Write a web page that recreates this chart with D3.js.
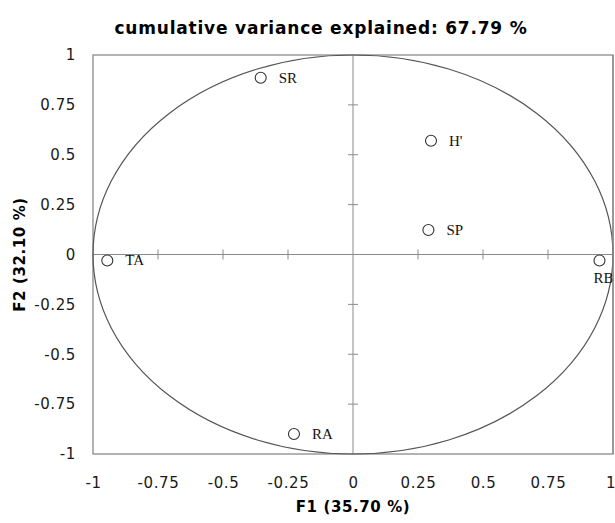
<!DOCTYPE html>
<html><head><meta charset="utf-8">
<script src="https://cdn.jsdelivr.net/npm/d3@7"></script>
<style>body{margin:0;background:#fff}</style>
</head><body>
<svg id="c" width="615" height="523"></svg>
<script>
const labels = ["SR","H'","SP","TA","RB","RA"];
const f1 = [-0.355, 0.30, 0.29, -0.945, 0.948, -0.227];
const f2 = [0.886, 0.57, 0.123, -0.03, -0.03, -0.90];
const tickVals = [-1,-0.75,-0.5,-0.25,0,0.25,0.5,0.75,1];
const tickText = ["-1","-0.75","-0.5","-0.25","0","0.25","0.5","0.75","1"];
const title = "cumulative variance explained: 67.79 %";
const xTitle = "F1 (35.70 %)";
const yTitle = "F2 (32.10 %)";

const svg = d3.select("#c");
const L=93, R=613, T=55, B=454;
const x = d3.scaleLinear().domain([-1,1]).range([L,R]);
const y = d3.scaleLinear().domain([-1,1]).range([B,T]);
const fmt = d => tickText[tickVals.indexOf(d)];
const sans = "DejaVu Sans, Verdana, sans-serif";

svg.append("rect").attr("x",L).attr("y",T).attr("width",R-L).attr("height",B-T)
  .attr("fill","none").attr("stroke","#8a8a8a").attr("stroke-width",1.3);

// center axes
const inner = tickVals.filter(d=>d!==-1 && d!==1 && d!==0);
svg.append("line").attr("x1",L).attr("x2",R).attr("y1",y(0)).attr("y2",y(0)).attr("stroke","#8a8a8a");
svg.append("line").attr("y1",T).attr("y2",B).attr("x1",x(0)).attr("x2",x(0)).attr("stroke","#8a8a8a");
svg.selectAll(".xt").data(inner).join("line").attr("x1",d=>x(d)).attr("x2",d=>x(d))
  .attr("y1",y(0)-5).attr("y2",y(0)+5).attr("stroke","#8a8a8a");
svg.selectAll(".yt").data(inner).join("line").attr("y1",d=>y(d)).attr("y2",d=>y(d))
  .attr("x1",x(0)-5).attr("x2",x(0)+5).attr("stroke","#8a8a8a");

// correlation circle
svg.append("ellipse").attr("cx",x(0)).attr("cy",y(0)).attr("rx",x(1)-x(0)).attr("ry",y(0)-y(1))
  .attr("fill","none").attr("stroke","#555").attr("stroke-width",1.2);

// axes labels
const xa = svg.append("g").attr("transform",`translate(0,${B})`)
  .call(d3.axisBottom(x).tickValues(tickVals).tickFormat(fmt).tickSize(0).tickPadding(23));
const ya = svg.append("g").attr("transform",`translate(${L},0)`)
  .call(d3.axisLeft(y).tickValues(tickVals).tickFormat(fmt).tickSize(0).tickPadding(17));
[xa,ya].forEach(a=>{a.select(".domain").remove();
  a.selectAll("text").attr("font-family",sans).attr("font-size",15).attr("letter-spacing",0.6).attr("fill","#1a1a1a");});
xa.selectAll(".tick").filter(d=>d===1).select("text").attr("text-anchor","end").attr("letter-spacing",0).attr("x",2);

// points
const pts = labels.map((l,i)=>({l, a:f1[i], b:f2[i]}));
svg.selectAll(".pt").data(pts).join("circle").attr("cx",d=>x(d.a)).attr("cy",d=>y(d.b)).attr("r",5.5)
  .attr("fill","#fff").attr("stroke","#333").attr("stroke-width",1.1);
svg.selectAll(".lb").data(pts).join("text")
  .attr("x",d=>d.l==="RB"? x(d.a)-6 : x(d.a)+18)
  .attr("y",d=>d.l==="RB"? y(d.b)+23 : y(d.b)+5)
  .attr("font-family","Liberation Serif, Times New Roman, serif").attr("font-size",15).attr("fill","#111")
  .text(d=>d.l);

// redraw right border over RB label
svg.append("line").attr("x1",R).attr("x2",R).attr("y1",T).attr("y2",B).attr("stroke","#8a8a8a").attr("stroke-width",1.3);

svg.append("text").attr("x",321).attr("y",34).attr("text-anchor","middle")
  .attr("font-family",sans).attr("font-weight","bold").attr("font-size",17).attr("letter-spacing",0.8).text(title);
svg.append("text").attr("x",x(0)).attr("y",512).attr("text-anchor","middle")
  .attr("font-family",sans).attr("font-weight","bold").attr("font-size",15).attr("letter-spacing",0.6).text(xTitle);
svg.append("text").attr("transform",`translate(25,${y(0)}) rotate(-90)`).attr("text-anchor","middle")
  .attr("font-family",sans).attr("font-weight","bold").attr("font-size",15).attr("letter-spacing",0.6).text(yTitle);
</script>
</body></html>
